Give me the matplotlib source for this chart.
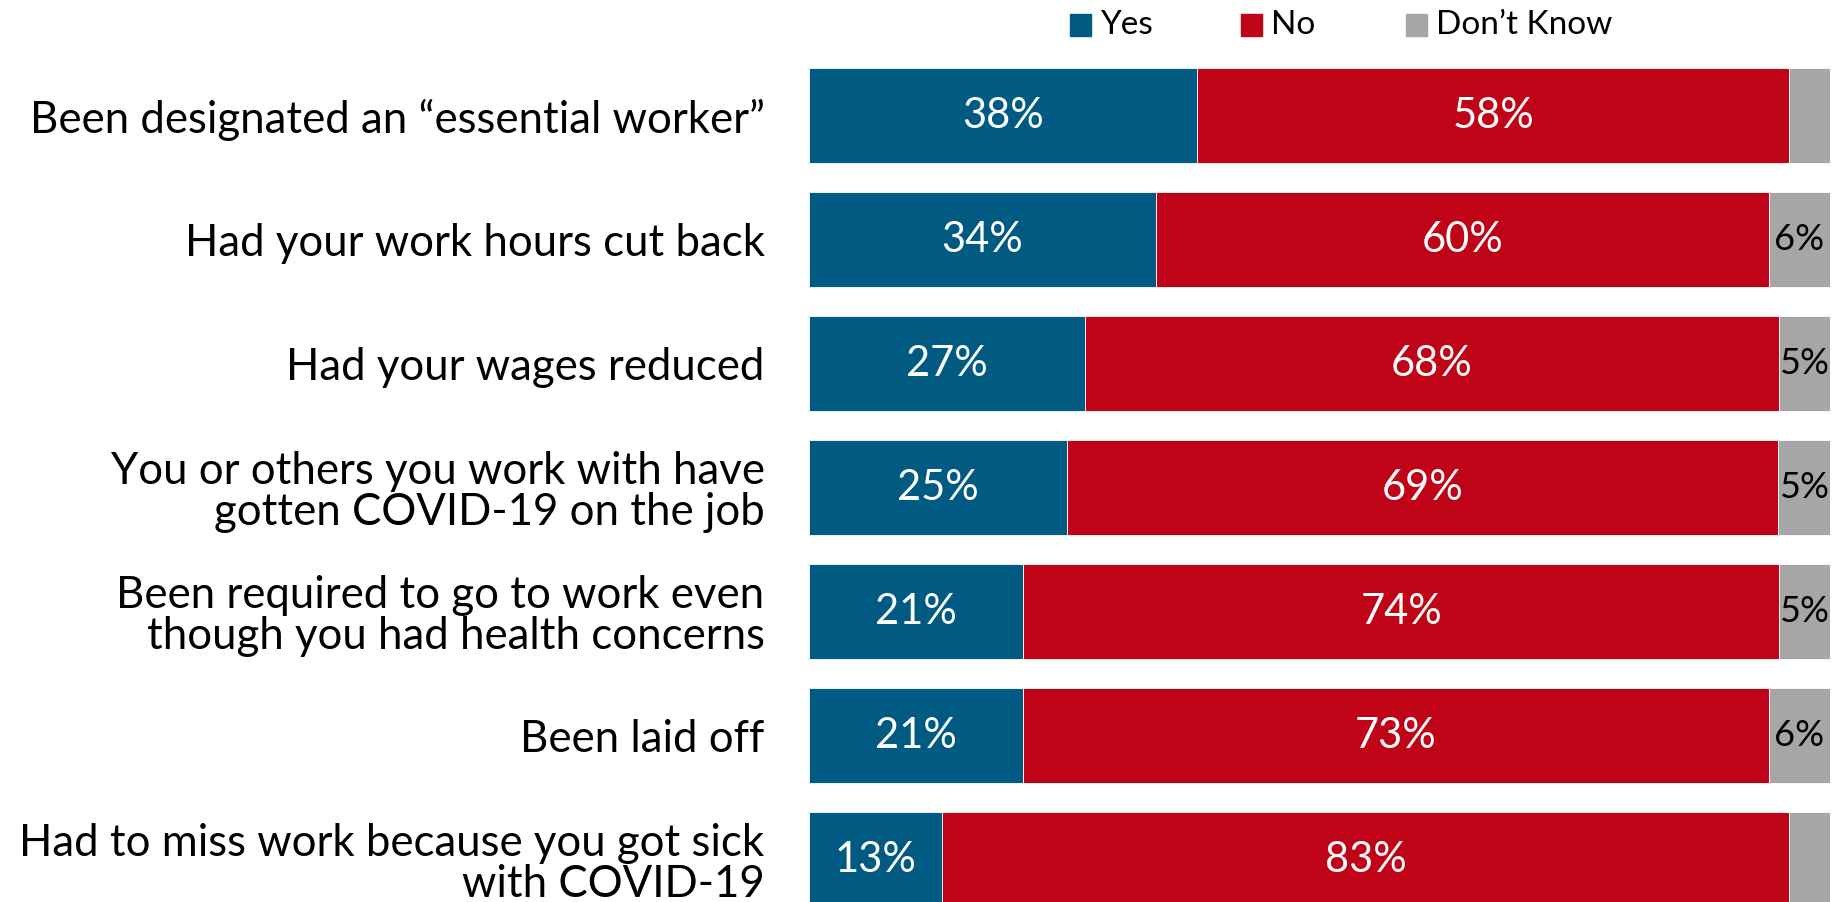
import matplotlib.pyplot as plt
from matplotlib.patches import Rectangle
import numpy as np

plt.rcParams['font.family'] = ['Lato', 'DejaVu Sans']

categories = ['Been designated an \u201cessential worker\u201d',
              'Had your work hours cut back',
              'Had your wages reduced',
              'You or others you work with have\ngotten COVID-19 on the job',
              'Been required to go to work even\nthough you had health concerns',
              'Been laid off',
              'Had to miss work because you got sick\nwith COVID-19']
yes = [38, 34, 27, 25, 21, 21, 13]
no = [58, 60, 68, 69, 74, 73, 83]
dont_know = [4, 6, 5, 5, 5, 6, 4]
series_names = ['Yes', 'No', 'Don\u2019t Know']
colors = ['#005A82', '#C00418', '#A6A6A6']

W, H = 1839, 902
fig = plt.figure(figsize=(W / 100, H / 100), dpi=100)
# axes placed in pixel terms: rows 124 px apart, first bar top at 68 px
ax = fig.add_axes([809 / W, (H - 921.5) / H, (1830 - 809) / W, 868 / H])

data = np.array([yes, no, dont_know], dtype=float)
# rounded values don't always add to 100, bars are stretched to full width
widths = data / data.sum(axis=0) * 100

y = np.arange(len(categories))
left = np.zeros(len(categories))
for k, (name, c) in enumerate(zip(series_names, colors)):
    ax.barh(y, widths[k], left=left, height=0.766, color=c,
            edgecolor='white', linewidth=0.6, label=name)
    for yi, l, w, v in zip(y, left, widths[k], data[k]):
        if name == 'Don\u2019t Know':
            if v >= 5:
                ax.text(l + w / 2, yi, '%d%%' % v, ha='center', va='center',
                        color='black', fontsize=26)
        else:
            ax.text(l + w / 2, yi, '%d%%' % v, ha='center', va='center',
                    color='white', fontsize=30)
    left = left + widths[k]

ax.set_xlim(0, 100)
ax.set_ylim(len(categories) - 0.5, -0.5)
ax.set_yticks(y)
ax.set_yticklabels(categories, fontsize=31.5, ha='right', linespacing=1.0)
ax.tick_params(axis='y', length=0, pad=32)
ax.set_xticks([])
for s in ax.spines.values():
    s.set_visible(False)

# legend drawn by hand, the columns are unevenly spaced in the original
leg_x = [1070, 1241, 1406]
sq = 21
leg_y = 25
for name, c, x in zip(series_names, colors, leg_x):
    fig.add_artist(Rectangle((x / W, 1 - (leg_y + sq / 2) / H), sq / W, sq / H,
                             color=c, transform=fig.transFigure))
    fig.text((x + sq + 9) / W, 1 - leg_y / H, name, ha='left', va='center',
             fontsize=24)

fig.savefig('out.png', dpi=100)
